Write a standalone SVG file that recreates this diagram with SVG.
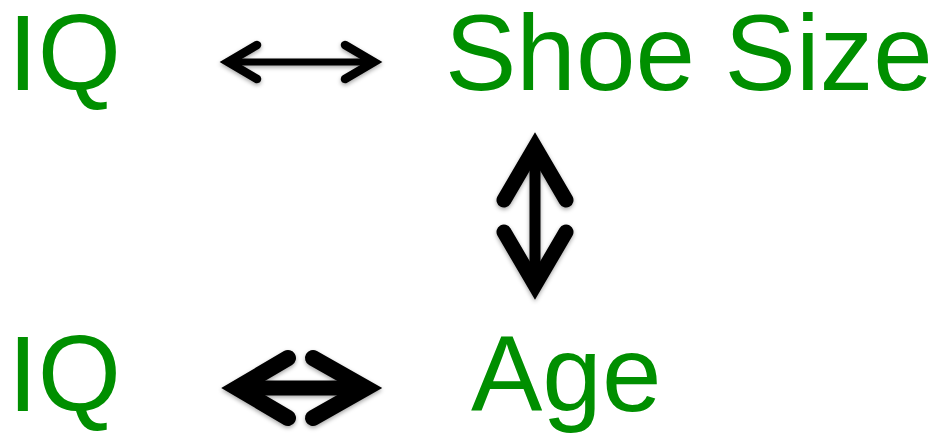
<svg xmlns="http://www.w3.org/2000/svg" width="934" height="433" viewBox="0 0 934 433">
<style>
.lbl{font-family:"Liberation Sans",Arial,sans-serif;font-size:107px;fill:#008f00}
.a{fill:none;stroke:#000;stroke-linecap:round;stroke-linejoin:miter;stroke-miterlimit:10}
</style>
<defs>
<filter id="sh" x="-20%" y="-20%" width="140%" height="150%">
<feDropShadow dx="0" dy="2" stdDeviation="2" flood-color="#000" flood-opacity="0.35"/>
</filter>
</defs>
<rect width="934" height="433" fill="#fff"/>
<g id="iq1"><text class="lbl" x="8" y="90">IQ</text></g>
<g id="shoe"><text class="lbl" x="445" y="90">Shoe Size</text></g>
<g id="iq2"><text class="lbl" x="8" y="411">IQ</text></g>
<g id="age"><text class="lbl" x="471" y="411">Age</text></g>
<g id="connectors" filter="url(#sh)">
<g id="c1">
<path class="a" d="M228,62 H374" stroke-width="7" stroke-linecap="butt"/>
<path class="a" d="M257,45 L228,62 L257,79" stroke-width="8.5"/>
<path class="a" d="M345,45 L374,62 L345,79" stroke-width="8.5"/>
</g>
<g id="c2">
<path class="a" d="M535,150 V284" stroke-width="11" stroke-linecap="butt"/>
<path class="a" d="M504,200 L535,147 L566,200" stroke-width="15"/>
<path class="a" d="M504,232 L535,285 L566,232" stroke-width="15"/>
</g>
<g id="c3">
<path class="a" d="M237,388 H366" stroke-width="15" stroke-linecap="butt"/>
<path class="a" d="M288,358 L237,388 L288,418" stroke-width="16"/>
<path class="a" d="M313,358 L366,388 L313,418" stroke-width="16"/>
</g>
</g>
</svg>
